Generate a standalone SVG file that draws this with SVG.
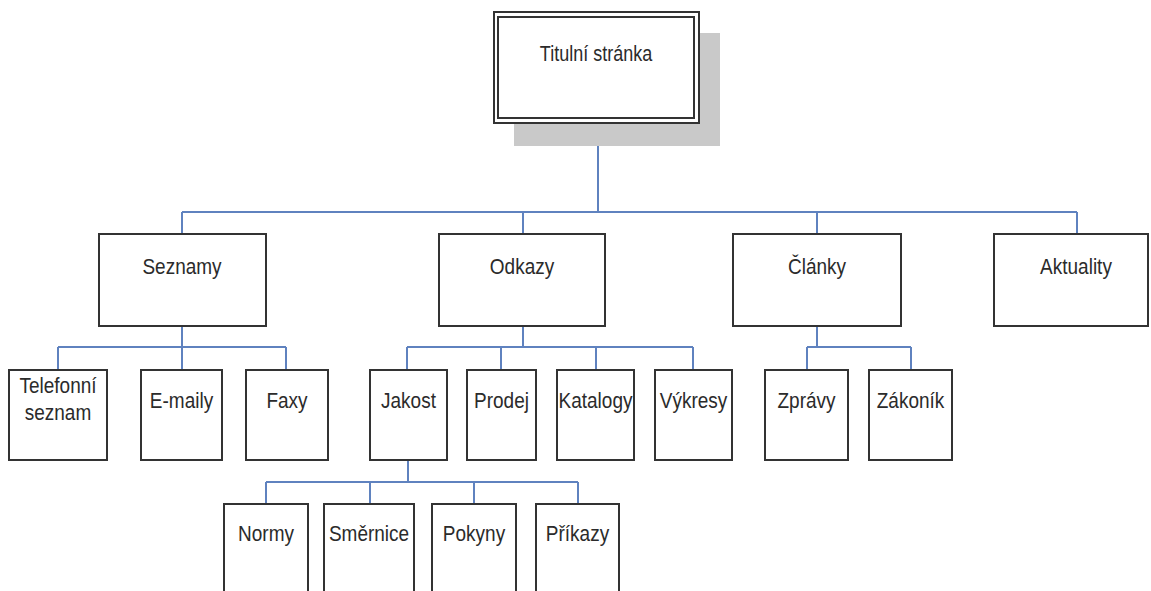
<svg xmlns="http://www.w3.org/2000/svg" width="1151" height="591" viewBox="0 0 1151 591">
  <style>
    .box { fill: #ffffff; stroke: #333333; stroke-width: 2; }
    .lbl { font-family: "Liberation Sans", Arial, sans-serif; font-size: 19px; fill: #2b2b2b; text-anchor: middle; }
    .link { fill: none; stroke: #5f82bf; stroke-width: 2; }
    .shadow { fill: #c9c9c9; }
  </style>
  <rect width="1151" height="591" fill="#ffffff"/>

  <!-- tree connectors -->
  <g id="connectors">
    <path class="link" d="M598 123 V212 M182 212 H1077 M182 212 V234 M523 212 V234 M817 212 V234 M1077 212 V234"/>
    <path class="link" d="M182 326 V347 M58 347 H286 M58 347 V370 M182 347 V370 M286 347 V370"/>
    <path class="link" d="M523 326 V347 M407 347 H693 M407 347 V370 M501 347 V370 M596 347 V370 M693 347 V370"/>
    <path class="link" d="M817 326 V347 M807 347 H911 M807 347 V370 M911 347 V370"/>
    <path class="link" d="M408 460 V482 M266 482 H578 M266 482 V504 M370 482 V504 M474 482 V504 M578 482 V504"/>
  </g>

  <!-- root (labels are drawn slightly tall: translate to baseline, then stretch vertically) -->
  <g id="titulni-stranka">
    <rect class="shadow" x="514" y="33" width="206" height="113"/>
    <rect x="494" y="12" width="205" height="111" fill="#ffffff" stroke="#333333" stroke-width="2"/>
    <rect x="498" y="17" width="196" height="101" fill="none" stroke="#333333" stroke-width="2"/>
    <text class="lbl" transform="translate(596 61) scale(1 1.25)" style="font-size:18px">Titulní stránka</text>
  </g>

  <!-- first level -->
  <g id="seznamy">
    <rect class="box" x="99" y="234" width="167" height="92"/>
    <text class="lbl" transform="translate(182 274) scale(1 1.12)">Seznamy</text>
  </g>
  <g id="odkazy">
    <rect class="box" x="439" y="234" width="166" height="92"/>
    <text class="lbl" transform="translate(522 274) scale(1 1.12)">Odkazy</text>
  </g>
  <g id="clanky">
    <rect class="box" x="733" y="234" width="168" height="92"/>
    <text class="lbl" transform="translate(817 274) scale(1 1.12)">Články</text>
  </g>
  <g id="aktuality">
    <rect class="box" x="994" y="234" width="154" height="92"/>
    <text class="lbl" transform="translate(1076 274) scale(1 1.12)">Aktuality</text>
  </g>

  <!-- second level -->
  <g id="telefonni-seznam">
    <rect class="box" x="9" y="370" width="98" height="90"/>
    <text class="lbl" transform="translate(58 393) scale(1 1.12)">Telefonní</text>
    <text class="lbl" transform="translate(58 420) scale(1 1.12)">seznam</text>
  </g>
  <g id="e-maily">
    <rect class="box" x="141" y="370" width="81" height="90"/>
    <text class="lbl" transform="translate(181.5 408) scale(1 1.12)">E-maily</text>
  </g>
  <g id="faxy">
    <rect class="box" x="246" y="370" width="82" height="90"/>
    <text class="lbl" transform="translate(287 408) scale(1 1.12)">Faxy</text>
  </g>
  <g id="jakost">
    <rect class="box" x="370" y="370" width="77" height="90"/>
    <text class="lbl" transform="translate(408.5 408) scale(1 1.12)">Jakost</text>
  </g>
  <g id="prodej">
    <rect class="box" x="467" y="370" width="69" height="90"/>
    <text class="lbl" transform="translate(501.5 408) scale(1 1.12)">Prodej</text>
  </g>
  <g id="katalogy">
    <rect class="box" x="557" y="370" width="77" height="90"/>
    <text class="lbl" transform="translate(595.5 408) scale(1 1.12)">Katalogy</text>
  </g>
  <g id="vykresy">
    <rect class="box" x="655" y="370" width="77" height="90"/>
    <text class="lbl" transform="translate(693.5 408) scale(1 1.12)">Výkresy</text>
  </g>
  <g id="zpravy">
    <rect class="box" x="765" y="370" width="83" height="90"/>
    <text class="lbl" transform="translate(806.5 408) scale(1 1.12)">Zprávy</text>
  </g>
  <g id="zakonik">
    <rect class="box" x="869" y="370" width="83" height="90"/>
    <text class="lbl" transform="translate(910.5 408) scale(1 1.12)">Zákoník</text>
  </g>

  <!-- third level -->
  <g id="normy">
    <rect class="box" x="224" y="504" width="84" height="110"/>
    <text class="lbl" transform="translate(266 541) scale(1 1.12)">Normy</text>
  </g>
  <g id="smernice">
    <rect class="box" x="324" y="504" width="90" height="110"/>
    <text class="lbl" transform="translate(369 541) scale(1 1.12)">Směrnice</text>
  </g>
  <g id="pokyny">
    <rect class="box" x="432" y="504" width="84" height="110"/>
    <text class="lbl" transform="translate(474 541) scale(1 1.12)">Pokyny</text>
  </g>
  <g id="prikazy">
    <rect class="box" x="536" y="504" width="83" height="110"/>
    <text class="lbl" transform="translate(577.5 541) scale(1 1.12)">Příkazy</text>
  </g>
</svg>
